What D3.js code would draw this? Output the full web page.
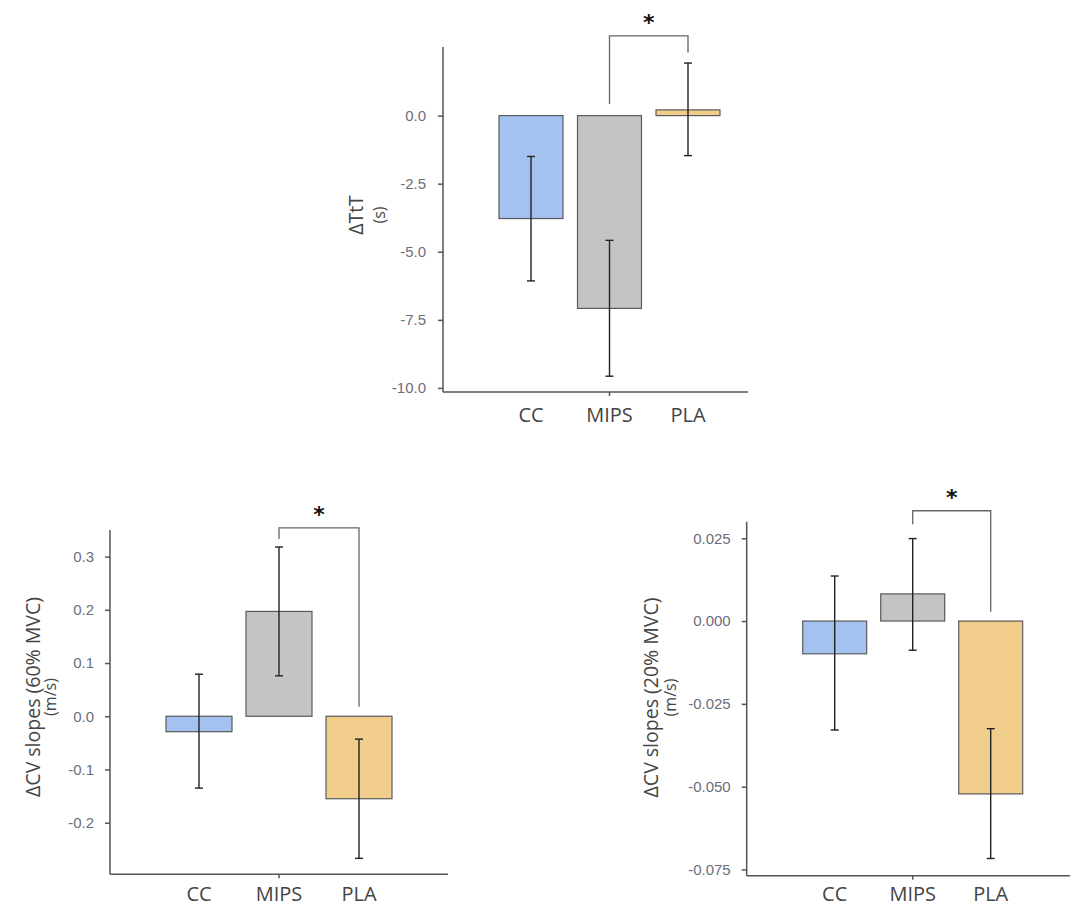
<!DOCTYPE html>
<html>
<head>
<meta charset="utf-8">
<script src="https://cdn.jsdelivr.net/npm/d3@7"></script>
<style>
  body { margin: 0; background: #fff; }
  svg { display: block; }
</style>
</head>
<body>
<svg id="chart" width="1070" height="907"></svg>
<script>
// groups
var categories = ["CC", "MIPS", "PLA"];

// delta TtT (s)
var ttMean  = [-3.78, -7.08, 0.21];
var ttLow   = [-6.07, -9.57, -1.47];
var ttHigh  = [-1.50, -4.58, 1.93];
var ttTicks = [0, -2.5, -5, -7.5, -10];
var ttBracket = { top: 2.93, left: 0.43, right: 2.32 };

// delta CV slopes 60% MVC (m/s)
var cv60Mean  = [-0.029, 0.197, -0.155];
var cv60Low   = [-0.135, 0.076, -0.267];
var cv60High  = [0.079, 0.318, -0.043];
var cv60Ticks = [0.3, 0.2, 0.1, 0, -0.1, -0.2];
var cv60Bracket = { top: 0.354, left: 0.333, right: 0.018 };

// delta CV slopes 20% MVC (m/s)
var cv20Mean  = [-0.0099, 0.0082, -0.0522];
var cv20Low   = [-0.0329, -0.0088, -0.0717];
var cv20High  = [0.0136, 0.0249, -0.0325];
var cv20Ticks = [0.025, 0, -0.025, -0.05, -0.075];
var cv20Bracket = { top: 0.0333, left: 0.0292, right: 0.0028 };

var colors = { CC: "#a3c2f0", MIPS: "#c4c4c4", PLA: "#f0cd8b" };

var svg = d3.select("#chart");

function panel(opts) {
    var g = svg.append("g");

    var y = d3.scaleLinear().domain(opts.yDomain).range(opts.yRange);
    var x = d3.scaleBand()
        .domain(categories)
        .range(opts.xRange)
        .paddingInner(opts.pad)
        .paddingOuter(opts.pad / 2);

    var rows = categories.map(function (c, i) {
        return { cat: c, mean: opts.mean[i], lo: opts.lo[i], hi: opts.hi[i] };
    });

    // bars
    g.selectAll(".bar")
        .data(rows)
        .enter().append("rect")
        .attr("class", "bar")
        .attr("x", function (d) { return x(d.cat); })
        .attr("width", x.bandwidth())
        .attr("y", function (d) { return y(Math.max(0, d.mean)); })
        .attr("height", function (d) { return Math.abs(y(d.mean) - y(0)); })
        .attr("fill", function (d) { return colors[d.cat]; })
        .attr("stroke", "#5a5a5a")
        .attr("stroke-width", 1.2);

    // error bars
    var cap = 4;
    var eb = g.selectAll(".err").data(rows).enter().append("g")
        .attr("class", "err")
        .attr("stroke", "#222")
        .attr("stroke-width", 1.4);
    eb.append("line")
        .attr("x1", function (d) { return x(d.cat) + x.bandwidth() / 2; })
        .attr("x2", function (d) { return x(d.cat) + x.bandwidth() / 2; })
        .attr("y1", function (d) { return y(d.lo); })
        .attr("y2", function (d) { return y(d.hi); });
    ["lo", "hi"].forEach(function (k) {
        eb.append("line")
            .attr("x1", function (d) { return x(d.cat) + x.bandwidth() / 2 - cap; })
            .attr("x2", function (d) { return x(d.cat) + x.bandwidth() / 2 + cap; })
            .attr("y1", function (d) { return y(d[k]); })
            .attr("y2", function (d) { return y(d[k]); });
    });

    // y axis (plain hyphen for minus, as in the original)
    var f = d3.format(opts.fmt);
    var yAxis = g.append("g")
        .attr("transform", "translate(" + opts.axisX + ",0)")
        .call(d3.axisLeft(y).tickValues(opts.ticks)
            .tickFormat(function (d) { return f(d).replace("\u2212", "-"); })
            .tickSizeInner(5).tickSizeOuter(0).tickPadding(opts.yPad));
    yAxis.select(".domain").attr("d", "M0," + opts.yRange[1] + "V" + opts.yRange[0]);

    // x axis
    var xAxis = g.append("g")
        .attr("transform", "translate(0," + opts.yRange[0] + ")")
        .call(d3.axisBottom(x).tickSizeInner(4).tickSizeOuter(0).tickPadding(opts.xPad));
    xAxis.select(".domain").attr("d", "M" + opts.axisX + ",0H" + opts.axisEnd);
    xAxis.selectAll(".tick line").filter(function (d) { return d !== "MIPS"; }).remove();

    [yAxis, xAxis].forEach(function (a) {
        a.select(".domain").attr("stroke", "#555").attr("stroke-width", 1.5);
        a.selectAll(".tick line").attr("stroke", "#555").attr("stroke-width", 1.5);
    });
    yAxis.selectAll("text")
        .attr("font-family", "Liberation Sans, Arial, sans-serif")
        .attr("font-size", 15)
        .attr("fill", "#6b6e7a");
    xAxis.selectAll("text")
        .attr("font-family", "Open Sans, sans-serif")
        .attr("font-size", 20)
        .attr("fill", "#444");

    // y title
    var ty = opts.titleY;
    g.append("text")
        .attr("transform", "translate(" + opts.titleX + "," + ty + ") rotate(-90)")
        .attr("text-anchor", "middle")
        .attr("dominant-baseline", "middle")
        .attr("font-family", "Open Sans, sans-serif")
        .attr("font-size", 19.5)
        .attr("fill", "#444")
        .text(opts.title);
    g.append("text")
        .attr("transform", "translate(" + opts.unitX + "," + ty + ") rotate(-90)")
        .attr("text-anchor", "middle")
        .attr("dominant-baseline", "middle")
        .attr("font-family", "Open Sans, sans-serif")
        .attr("font-size", 16)
        .attr("fill", "#444")
        .text(opts.unit);

    // significance bracket
    var b = opts.bracket;
    var xl = x("MIPS") + x.bandwidth() / 2,
        xr = x("PLA") + x.bandwidth() / 2;
    g.append("path")
        .attr("d", "M" + xl + "," + y(b.left) + "V" + y(b.top) + "H" + xr + "V" + y(b.right))
        .attr("fill", "none")
        .attr("stroke", "#666")
        .attr("stroke-width", 1.3);
    g.append("text")
        .attr("x", (xl + xr) / 2)
        .attr("y", y(b.top) - 6)
        .attr("text-anchor", "middle")
        .attr("font-family", "DejaVu Sans, sans-serif")
        .attr("font-weight", "bold")
        .attr("font-size", 22)
        .attr("fill", "#111")
        .text("*");
}

panel({
    mean: ttMean, lo: ttLow, hi: ttHigh, ticks: ttTicks, fmt: ".1f", bracket: ttBracket,
    yDomain: [-10.15, 2.52], yRange: [392, 47],
    xRange: [491.75, 727.25], pad: 0.185,
    axisX: 443, axisEnd: 748, yPad: 12, xPad: 12,
    title: "\u0394TtT", unit: "(s)", titleX: 358, unitX: 381, titleY: 215
});

panel({
    mean: cv60Mean, lo: cv60Low, hi: cv60High, ticks: cv60Ticks, fmt: ".1f", bracket: cv60Bracket,
    yDomain: [-0.297, 0.350], yRange: [874.3, 530],
    xRange: [159, 399], pad: 0.175,
    axisX: 110, axisEnd: 448, yPad: 11, xPad: 9,
    title: "\u0394CV slopes (60% MVC)", unit: "(m/s)", titleX: 35, unitX: 52, titleY: 697
});

panel({
    mean: cv20Mean, lo: cv20Low, hi: cv20High, ticks: cv20Ticks, fmt: ".3f", bracket: cv20Bracket,
    yDomain: [-0.0769, 0.030], yRange: [875.7, 521.7],
    xRange: [795.7, 1029.7], pad: 0.18,
    axisX: 746.7, axisEnd: 1070, yPad: 11, xPad: 7.5,
    title: "\u0394CV slopes (20% MVC)", unit: "(m/s)", titleX: 653, unitX: 671.5, titleY: 697.5
});
</script>
</body>
</html>
